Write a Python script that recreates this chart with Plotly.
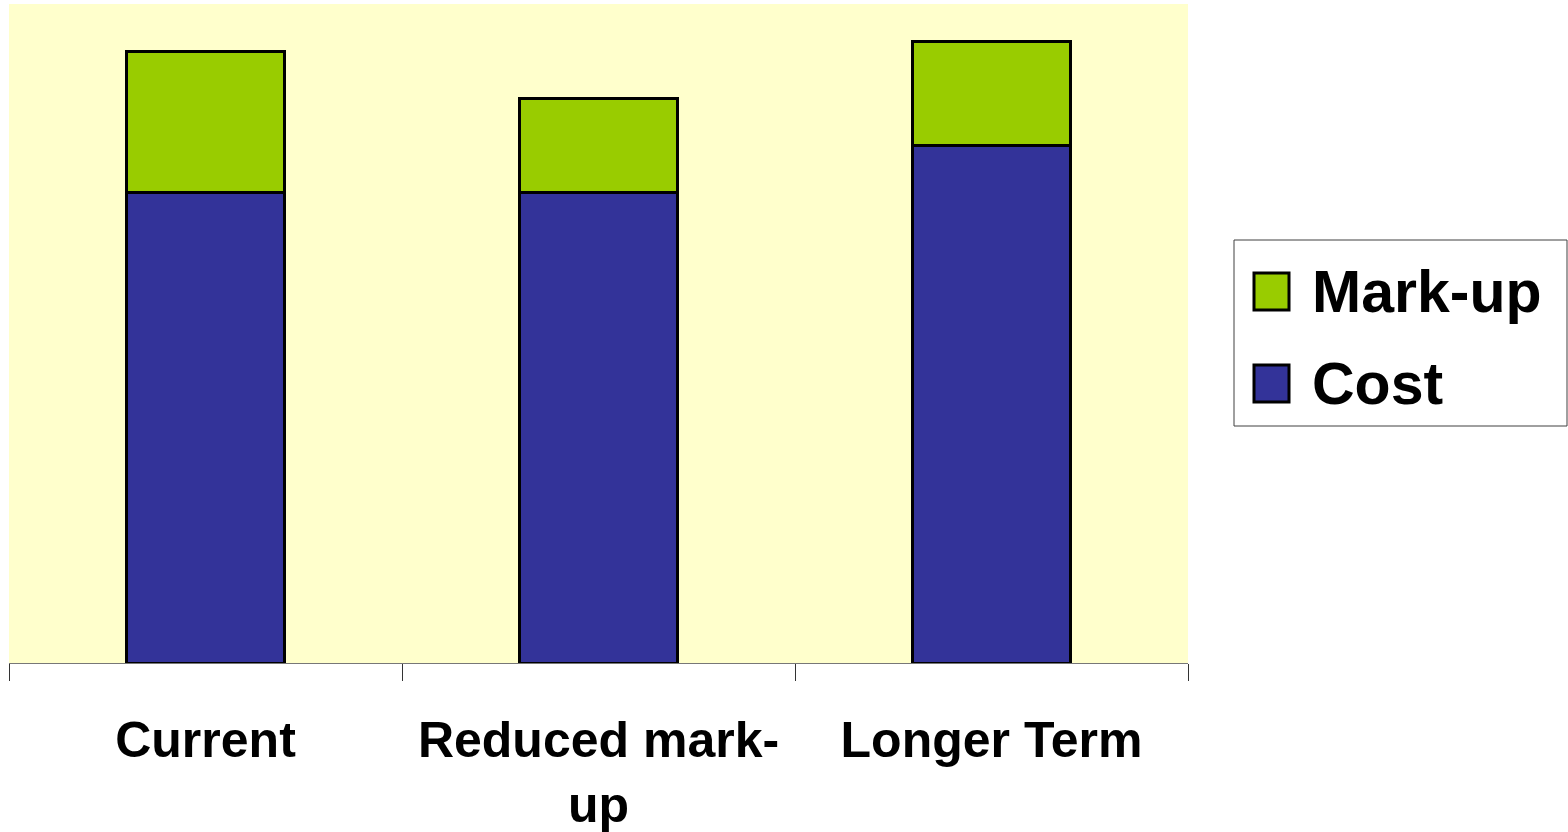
import plotly.graph_objects as go

categories = ["Current", "Reduced mark-up", "Longer Term"]
tick_labels = ["Current", "Reduced mark-<br>up", "Longer Term"]
cost = [100, 100, 110]
markup = [30, 20, 22]
series_names = ["Cost", "Mark-up"]

COST_COLOR = "#333399"
MARKUP_COLOR = "#99CC00"
FONT = "Arial, Liberation Sans, sans-serif"

fig = go.Figure()
fig.add_trace(go.Bar(x=categories, y=cost, name=series_names[0],
                     marker=dict(color=COST_COLOR, line=dict(color="black", width=3)),
                     width=0.4, showlegend=False))
fig.add_trace(go.Bar(x=categories, y=markup, name=series_names[1],
                     marker=dict(color=MARKUP_COLOR, line=dict(color="black", width=3)),
                     width=0.4, showlegend=False))

W, H = 1568, 832
L, R, T, B = 9, 1188, 4, 663

shapes = []
annotations = []
# legend box
shapes.append(dict(type="rect", xref="paper", yref="paper",
                   x0=(1234 - L) / (R - L), x1=(1567 - L) / (R - L),
                   y0=(B - 426) / (B - T), y1=(B - 240) / (B - T),
                   line=dict(color="#404040", width=1), fillcolor="white", layer="below"))
legend_items = [(series_names[1], MARKUP_COLOR, 273, 310, 292),
                (series_names[0], COST_COLOR, 365, 402, 384)]
for name, col, y0, y1, yc in legend_items:
    shapes.append(dict(type="rect", xref="paper", yref="paper",
                       x0=(1254 - L) / (R - L), x1=(1289 - L) / (R - L),
                       y0=(B - y1) / (B - T), y1=(B - y0) / (B - T),
                       line=dict(color="black", width=3), fillcolor=col))
    annotations.append(dict(text=name, xref="paper", yref="paper",
                            x=(1310 - L) / (R - L), y=(B - yc) / (B - T),
                            xanchor="left", yanchor="middle", showarrow=False,
                            font=dict(family=FONT, size=59, color="black", weight="bold")))

fig.update_layout(
    width=W, height=H,
    autosize=False,
    barmode="stack",
    paper_bgcolor="white",
    plot_bgcolor="#FFFFCC",
    margin=dict(l=L, r=W - R, t=T, b=H - B, pad=0, autoexpand=False),
    showlegend=False,
    shapes=shapes,
    annotations=annotations,
)
fig.update_xaxes(
    tickmode="array", tickvals=categories, ticktext=tick_labels,
    tickson="boundaries", ticks="outside", ticklen=17, tickwidth=1, tickcolor="#333333",
    showline=True, linecolor="#777777", linewidth=1,
    showgrid=False, zeroline=False, automargin=False,
    tickfont=dict(family=FONT, size=50, color="black", weight="bold"),
    ticklabelstandoff=33,
)
fig.update_yaxes(range=[0, 140], visible=False, showgrid=False, zeroline=False, automargin=False)

fig.write_html("out.html", config={"displayModeBar": False},
               post_script="document.body.style.margin='0';document.body.style.overflow='hidden';")
